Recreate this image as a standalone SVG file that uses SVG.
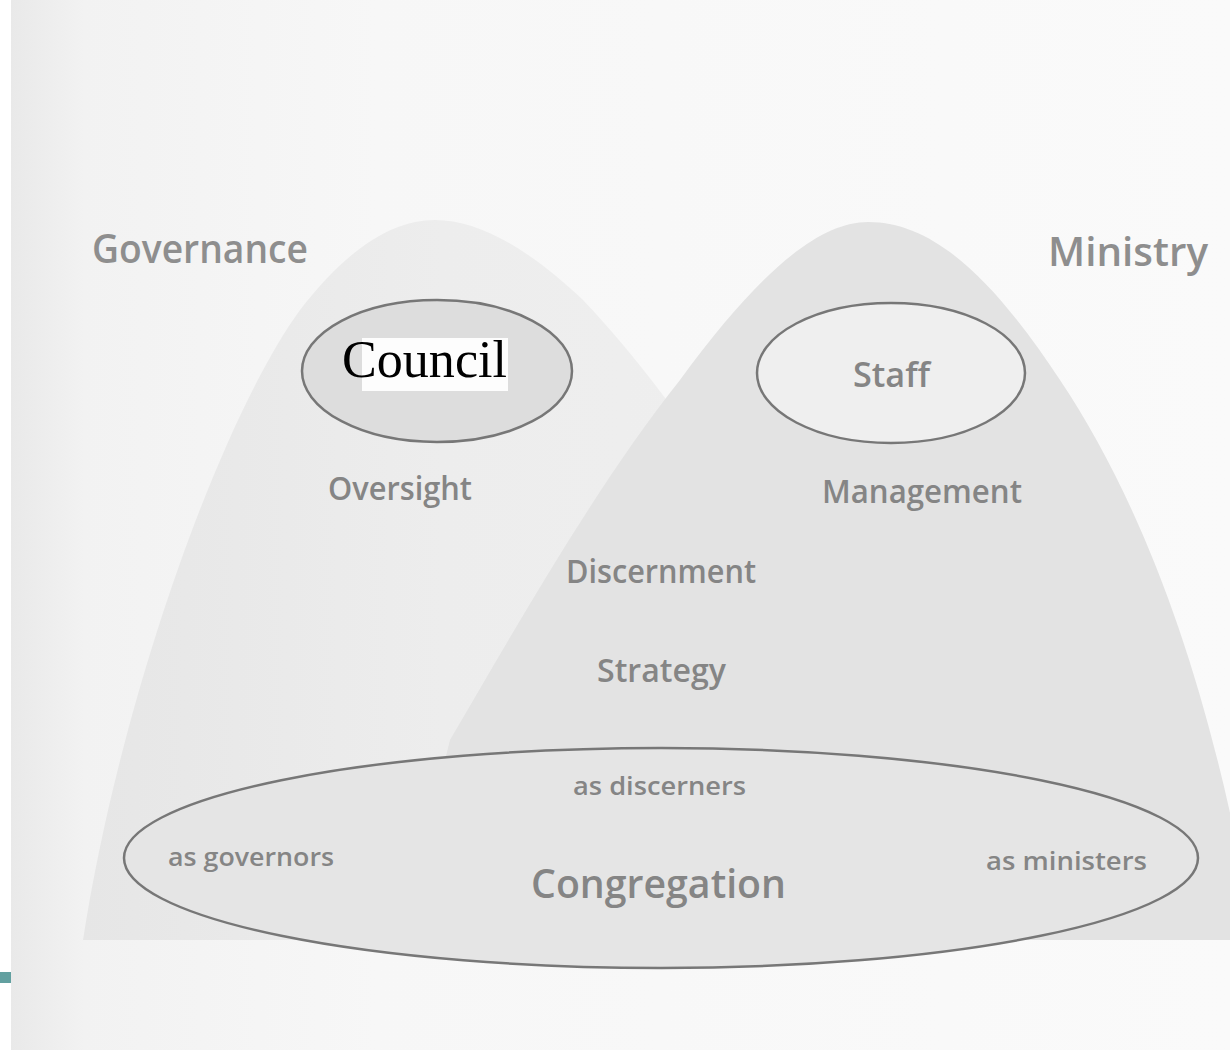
<svg xmlns="http://www.w3.org/2000/svg" width="1230" height="1050" viewBox="0 0 1230 1050">
  <defs>
    <linearGradient id="paper" x1="0" y1="0" x2="1" y2="0">
      <stop offset="0" stop-color="#e9e9e9"/>
      <stop offset="0.06" stop-color="#f2f2f2"/>
      <stop offset="0.3" stop-color="#f7f7f7"/>
      <stop offset="1" stop-color="#fafafa"/>
    </linearGradient>
    <linearGradient id="leftBell" x1="0" y1="0" x2="1" y2="0">
      <stop offset="0" stop-color="#e6e6e6"/>
      <stop offset="0.5" stop-color="#ededed"/>
      <stop offset="1" stop-color="#efefef"/>
    </linearGradient>
    <style>
      .label { font-family: "Open Sans", "DejaVu Sans", sans-serif; font-weight: 600; fill: #858585; }
      .title { font-size: 40px; fill: #8e8e8e; }
      .mid { font-size: 32px; }
      .small { font-size: 26px; }
      .ring { stroke: #777777; stroke-width: 2.5; }
    </style>
  </defs>

  <!-- page -->
  <rect x="0" y="0" width="1230" height="1050" fill="#ffffff"/>
  <rect x="11" y="0" width="1219" height="1050" fill="url(#paper)"/>
  <rect x="0" y="972" width="11" height="11" fill="#62a0a0"/>

  <!-- Governance bell -->
  <g id="governance">
    <path d="M 83 940 C 120 700, 220 420, 300 310 C 350 245, 395 220, 435 220 C 480 220, 530 250, 583 300 C 640 360, 700 440, 760 540 L 800 940 Z" fill="url(#leftBell)"/>
    <text class="label title" x="92" y="263" textLength="216" lengthAdjust="spacingAndGlyphs">Governance</text>
  </g>

  <!-- Ministry bell -->
  <g id="ministry">
    <path d="M 400 940 L 450 740 C 520 620, 600 480, 680 380 C 760 270, 820 222, 868 222 C 940 222, 1000 290, 1060 380 C 1140 500, 1200 660, 1240 860 L 1240 940 Z" fill="#e3e3e3"/>
    <text class="label title" x="1048" y="266" textLength="160" lengthAdjust="spacingAndGlyphs">Ministry</text>
  </g>

  <!-- Council -->
  <g id="council">
    <ellipse class="ring" cx="437" cy="371" rx="135" ry="71" fill="#dddddd"/>
    <rect x="362" y="338" width="146" height="53" fill="#ffffff" opacity="0.92"/>
    <text x="342" y="377" font-family="'Liberation Serif', 'Times New Roman', serif" font-size="52" fill="#000000" textLength="165" lengthAdjust="spacingAndGlyphs">Council</text>
  </g>

  <!-- Staff -->
  <g id="staff">
    <ellipse class="ring" cx="891" cy="373" rx="134" ry="70" fill="#efefef"/>
    <text class="label" x="853" y="387" font-size="35" textLength="77" lengthAdjust="spacingAndGlyphs">Staff</text>
  </g>

  <!-- Middle labels -->
  <g id="oversight">
    <text class="label mid" x="328" y="500" textLength="144" lengthAdjust="spacingAndGlyphs">Oversight</text>
  </g>
  <g id="management">
    <text class="label mid" x="822" y="503" textLength="200" lengthAdjust="spacingAndGlyphs">Management</text>
  </g>
  <g id="discernment">
    <text class="label mid" x="566" y="583" textLength="190" lengthAdjust="spacingAndGlyphs">Discernment</text>
  </g>
  <g id="strategy">
    <text class="label mid" x="597" y="682" textLength="129" lengthAdjust="spacingAndGlyphs">Strategy</text>
  </g>

  <!-- Congregation -->
  <g id="congregation">
    <ellipse class="ring" cx="661" cy="858" rx="537" ry="110" fill="#e5e5e5"/>
    <text class="label small" x="573" y="795" textLength="173" lengthAdjust="spacingAndGlyphs">as discerners</text>
    <text class="label small" x="168" y="866" textLength="166" lengthAdjust="spacingAndGlyphs">as governors</text>
    <text class="label small" x="986" y="870" textLength="161" lengthAdjust="spacingAndGlyphs">as ministers</text>
    <text class="label" x="531" y="898" font-size="40" fill="#858585" textLength="255" lengthAdjust="spacingAndGlyphs">Congregation</text>
  </g>
</svg>
